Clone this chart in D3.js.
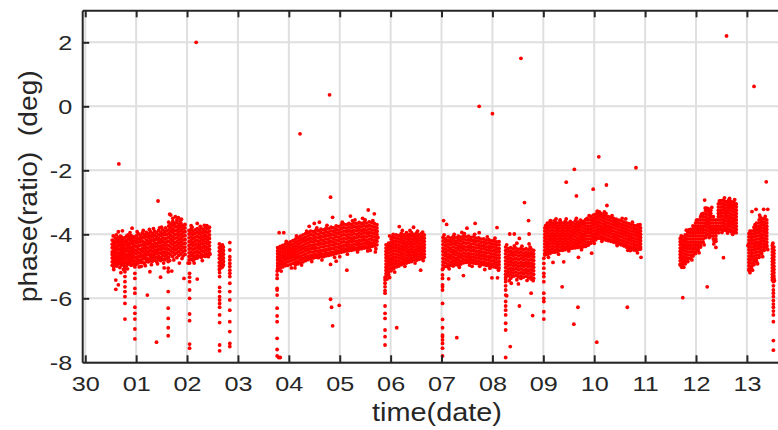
<!DOCTYPE html>
<html><head><meta charset="utf-8">
<script src="https://cdn.jsdelivr.net/npm/d3@7"></script>
<style>
body{margin:0;background:#fff}
svg{display:block}
text{font-family:"Liberation Sans",Arial,Helvetica,sans-serif;fill:#262626}
</style>
</head><body>
<svg id="c" width="778" height="430"></svg>
<script>
// ---- axis definitions (days counted from the "30" tick) ----
const xTickValues = [0,1,2,3,4,5,6,7,8,9,10,11,12,13];
const xTickLabels = ["30","01","02","03","04","05","06","07","08","09","10","11","12","13"];
const yTickValues = [-8,-6,-4,-2,0,2];
const yTickLabels = ["-8","-6","-4","-2","0","2"];
const xTitle = "time(date)";
const yTitle = "phase(ratio)  (deg)";

// ---- data: each row = [time (days), phase values at that time ...] ----
const segA = [
[0.53,-4.18,-4.31,-4.42,-4.55,-4.63,-4.74,-4.86,-4.97],
[0.56,-4.22,-4.29,-4.40,-4.51,-4.66,-4.78,-4.83,-4.92,-5.02],
[0.59,-4.12,-4.27,-4.36,-4.48,-4.59,-4.70,-4.81,-4.95],
[0.62,-4.16,-4.24,-4.38,-4.47,-4.57,-4.68,-4.77,-4.89,-4.99],
[0.65,-4.10,-4.21,-4.33,-4.45,-4.61,-4.72,-4.84,-4.93],
[0.68,-4.17,-4.26,-4.35,-4.50,-4.58,-4.69,-4.80,-4.91,-5.04],
[0.71,-4.08,-4.20,-4.32,-4.44,-4.55,-4.64,-4.76,-4.88,-4.96],
[0.74,-4.14,-4.25,-4.39,-4.49,-4.60,-4.73,-4.82,-4.94],
[0.77,-4.11,-4.23,-4.34,-4.46,-4.57,-4.67,-4.79,-4.90,-5.01],
[0.81,-4.06,-4.19,-4.30,-4.43,-4.52,-4.65,-4.75,-4.87,-4.98],
[0.84,-4.02,-4.15,-4.28,-4.37,-4.49,-4.62,-4.71,-4.85,-4.93],
[0.87,-4.09,-4.18,-4.31,-4.42,-4.56,-4.66,-4.78,-4.89],
[0.90,-4.04,-4.13,-4.26,-4.40,-4.51,-4.63,-4.74,-4.86,-4.97],
[0.93,-4.07,-4.20,-4.29,-4.41,-4.54,-4.60,-4.72,-4.83,-4.95],
[0.955,-4.10,-4.22,-4.35,-4.47,-4.58,-4.69,-4.81,-4.92],
[1.00,-4.05,-4.16,-4.27,-4.38,-4.50,-4.61,-4.73,-4.84,-4.94],
[1.04,-3.98,-4.12,-4.24,-4.36,-4.45,-4.57,-4.68,-4.79,-4.90],
[1.08,-4.03,-4.14,-4.23,-4.34,-4.48,-4.59,-4.70,-4.82,-4.88],
[1.12,-3.96,-4.09,-4.21,-4.33,-4.44,-4.53,-4.66,-4.77,-4.87],
[1.16,-4.01,-4.11,-4.25,-4.35,-4.46,-4.58,-4.67,-4.76,-4.91],
[1.20,-3.94,-4.06,-4.18,-4.30,-4.41,-4.52,-4.63,-4.74,-4.85],
[1.24,-3.99,-4.10,-4.22,-4.31,-4.43,-4.55,-4.64,-4.78,-4.86],
[1.28,-3.92,-4.05,-4.17,-4.28,-4.39,-4.50,-4.62,-4.71,-4.83],
[1.32,-3.97,-4.08,-4.19,-4.32,-4.42,-4.54,-4.65,-4.75,-4.84],
[1.36,-3.90,-4.03,-4.15,-4.26,-4.37,-4.49,-4.60,-4.70,-4.81],
[1.40,-3.95,-4.07,-4.16,-4.29,-4.40,-4.51,-4.61,-4.73,-4.85],
[1.44,-3.88,-4.01,-4.13,-4.24,-4.36,-4.47,-4.58,-4.69,-4.79],
[1.48,-3.93,-4.04,-4.17,-4.27,-4.38,-4.48,-4.59,-4.72,-4.82],
[1.52,-3.86,-3.99,-4.11,-4.22,-4.34,-4.45,-4.56,-4.66,-4.78],
[1.56,-3.91,-4.02,-4.14,-4.25,-4.35,-4.46,-4.57,-4.68,-4.80],
[1.60,-3.89,-4.00,-4.12,-4.23,-4.33,-4.44,-4.55,-4.65,-4.76],
[1.64,-3.62,-3.74,-3.86,-3.98,-4.10,-4.22,-4.35,-4.47,-4.60,-4.72],
[1.68,-3.68,-3.79,-3.91,-4.03,-4.15,-4.27,-4.39,-4.52,-4.64],
[1.72,-3.60,-3.71,-3.84,-3.95,-4.08,-4.19,-4.31,-4.44,-4.56,-4.70],
[1.76,-3.66,-3.77,-3.89,-4.01,-4.12,-4.25,-4.37,-4.49,-4.62],
[1.80,-3.63,-3.75,-3.87,-3.99,-4.11,-4.23,-4.34,-4.46,-4.58,-4.73],
[1.84,-3.70,-3.81,-3.93,-4.05,-4.17,-4.29,-4.41,-4.54,-4.66],
[1.88,-3.65,-3.76,-3.88,-4.00,-4.13,-4.24,-4.36,-4.48,-4.61],
[1.92,-3.72,-3.83,-3.94,-4.06,-4.18,-4.30,-4.42,-4.55,-4.68],
[1.96,-3.69,-3.80,-3.92,-4.04,-4.16,-4.28,-4.40,-4.51,-4.63],
[2.04,-3.88,-3.99,-4.11,-4.23,-4.35,-4.46,-4.58,-4.69,-4.80],
[2.08,-3.84,-3.96,-4.08,-4.20,-4.31,-4.43,-4.55,-4.66,-4.78],
[2.12,-3.90,-4.01,-4.13,-4.25,-4.36,-4.48,-4.60,-4.71,-4.82],
[2.16,-3.86,-3.97,-4.09,-4.21,-4.33,-4.44,-4.56,-4.68,-4.76],
[2.20,-3.82,-3.94,-4.06,-4.18,-4.30,-4.41,-4.53,-4.64,-4.74],
[2.24,-3.87,-3.98,-4.10,-4.22,-4.34,-4.45,-4.57,-4.70],
[2.28,-3.81,-3.93,-4.05,-4.16,-4.28,-4.40,-4.51,-4.63,-4.72],
[2.32,-3.85,-3.96,-4.08,-4.19,-4.31,-4.42,-4.54,-4.67],
[2.36,-3.79,-3.91,-4.03,-4.14,-4.26,-4.38,-4.49,-4.61,-4.69],
[2.40,-3.83,-3.95,-4.07,-4.18,-4.29,-4.41,-4.52,-4.62],
[2.44,-3.78,-3.90,-4.02,-4.13,-4.25,-4.36,-4.47,-4.58],
[2.635,-4.30,-4.42,-4.53,-4.65,-4.76,-4.88,-4.99,-5.10],
[2.665,-4.36,-4.47,-4.59,-4.70,-4.82,-4.93,-5.05],
[2.695,-4.33,-4.45,-4.56,-4.68,-4.79,-4.91,-5.02],
[2.715,-4.40,-4.51,-4.62,-4.74,-4.85,-4.96]
];
const segB = [
[3.78,-4.42,-4.52,-4.61,-4.71,-4.80,-4.90,-4.99,-5.08],
[3.83,-4.38,-4.47,-4.57,-4.66,-4.76,-4.85,-4.95,-5.05],
[3.88,-4.35,-4.45,-4.54,-4.64,-4.73,-4.83,-4.92,-5.02],
[3.93,-4.31,-4.41,-4.50,-4.60,-4.70,-4.79,-4.89,-4.98],
[3.98,-4.28,-4.38,-4.48,-4.57,-4.67,-4.76,-4.86,-4.97],
[4.03,-4.24,-4.34,-4.44,-4.54,-4.63,-4.73,-4.83,-4.94],
[4.08,-4.20,-4.31,-4.41,-4.50,-4.60,-4.70,-4.80,-4.91],
[4.13,-4.15,-4.25,-4.36,-4.46,-4.56,-4.66,-4.76,-4.86,-4.95],
[4.18,-4.10,-4.21,-4.31,-4.42,-4.52,-4.62,-4.72,-4.83,-4.92],
[4.23,-4.06,-4.17,-4.27,-4.38,-4.48,-4.58,-4.69,-4.79,-4.89],
[4.28,-4.02,-4.13,-4.23,-4.34,-4.44,-4.55,-4.65,-4.76,-4.86],
[4.33,-3.98,-4.09,-4.20,-4.30,-4.41,-4.51,-4.62,-4.72,-4.82],
[4.38,-3.94,-4.05,-4.16,-4.27,-4.37,-4.48,-4.58,-4.69,-4.79],
[4.43,-3.90,-4.01,-4.12,-4.23,-4.34,-4.44,-4.55,-4.66,-4.75],
[4.48,-3.92,-4.03,-4.14,-4.24,-4.35,-4.45,-4.56,-4.67,-4.74],
[4.53,-3.87,-3.98,-4.09,-4.20,-4.31,-4.42,-4.52,-4.63,-4.72],
[4.58,-3.89,-4.00,-4.11,-4.22,-4.32,-4.43,-4.54,-4.64,-4.73],
[4.63,-3.84,-3.95,-4.06,-4.17,-4.28,-4.39,-4.50,-4.60,-4.69],
[4.68,-3.86,-3.97,-4.08,-4.19,-4.30,-4.40,-4.51,-4.62,-4.70],
[4.73,-3.81,-3.92,-4.03,-4.14,-4.25,-4.36,-4.47,-4.57,-4.67],
[4.78,-3.83,-3.94,-4.05,-4.16,-4.27,-4.37,-4.48,-4.59,-4.66],
[4.83,-3.78,-3.89,-4.00,-4.11,-4.22,-4.33,-4.44,-4.55,-4.64],
[4.88,-3.80,-3.91,-4.02,-4.13,-4.24,-4.34,-4.45,-4.56,-4.62],
[4.93,-3.74,-3.85,-3.96,-4.07,-4.18,-4.29,-4.40,-4.51,-4.60],
[4.98,-3.76,-3.87,-3.98,-4.09,-4.20,-4.31,-4.41,-4.52,-4.58],
[5.03,-3.71,-3.82,-3.93,-4.04,-4.15,-4.26,-4.37,-4.47,-4.56],
[5.08,-3.68,-3.79,-3.90,-4.01,-4.12,-4.23,-4.34,-4.45,-4.54],
[5.13,-3.70,-3.81,-3.92,-4.03,-4.14,-4.25,-4.35,-4.46,-4.52],
[5.18,-3.66,-3.77,-3.88,-3.99,-4.10,-4.21,-4.31,-4.42,-4.51],
[5.23,-3.69,-3.80,-3.91,-4.02,-4.13,-4.23,-4.34,-4.44,-4.50],
[5.28,-3.65,-3.76,-3.87,-3.98,-4.09,-4.19,-4.30,-4.40,-4.48],
[5.33,-3.67,-3.78,-3.89,-4.00,-4.11,-4.22,-4.32,-4.43,-4.47],
[5.38,-3.63,-3.74,-3.85,-3.96,-4.07,-4.18,-4.28,-4.38,-4.46],
[5.43,-3.66,-3.77,-3.88,-3.99,-4.09,-4.20,-4.31,-4.41,-4.45],
[5.48,-3.62,-3.73,-3.84,-3.95,-4.06,-4.16,-4.27,-4.37,-4.43],
[5.53,-3.65,-3.76,-3.87,-3.97,-4.08,-4.19,-4.29,-4.39,-4.42],
[5.58,-3.61,-3.72,-3.83,-3.94,-4.04,-4.15,-4.25,-4.35,-4.41],
[5.63,-3.64,-3.75,-3.86,-3.96,-4.07,-4.17,-4.28,-4.38],
[5.68,-3.66,-3.77,-3.87,-3.98,-4.08,-4.19,-4.29,-4.36],
[5.73,-3.70,-3.80,-3.91,-4.01,-4.12,-4.22,-4.33]
];
const segC = [
[5.91,-4.33,-4.43,-4.53,-4.63,-4.73,-4.83,-4.93,-5.03,-5.13,-5.23,-5.32],
[5.96,-4.28,-4.38,-4.48,-4.58,-4.68,-4.78,-4.88,-4.98,-5.08,-5.18,-5.26],
[6.01,-4.15,-4.25,-4.35,-4.45,-4.55,-4.65,-4.75,-4.85,-4.95,-5.05,-5.14],
[6.06,-4.10,-4.21,-4.31,-4.41,-4.51,-4.61,-4.71,-4.81,-4.91,-5.01,-5.08],
[6.11,-4.02,-4.12,-4.22,-4.32,-4.42,-4.52,-4.62,-4.72,-4.82,-4.92,-5.02],
[6.16,-4.04,-4.14,-4.24,-4.34,-4.44,-4.54,-4.64,-4.74,-4.84,-4.94,-4.99],
[6.21,-3.97,-4.07,-4.17,-4.27,-4.37,-4.47,-4.57,-4.67,-4.77,-4.87,-4.95],
[6.26,-4.01,-4.11,-4.21,-4.31,-4.41,-4.51,-4.61,-4.71,-4.81,-4.91],
[6.31,-3.95,-4.05,-4.15,-4.25,-4.35,-4.45,-4.55,-4.65,-4.75,-4.85,-4.90],
[6.36,-4.00,-4.10,-4.20,-4.30,-4.40,-4.50,-4.60,-4.70,-4.80,-4.87],
[6.41,-3.95,-4.05,-4.15,-4.25,-4.35,-4.45,-4.55,-4.65,-4.75,-4.85],
[6.46,-4.00,-4.10,-4.20,-4.30,-4.40,-4.50,-4.60,-4.70,-4.80],
[6.51,-3.96,-4.06,-4.16,-4.26,-4.36,-4.46,-4.56,-4.66,-4.76,-4.81],
[6.56,-4.01,-4.11,-4.21,-4.31,-4.41,-4.51,-4.61,-4.71,-4.78],
[6.61,-3.97,-4.07,-4.17,-4.27,-4.37,-4.47,-4.57,-4.67,-4.76],
[6.66,-4.02,-4.12,-4.22,-4.32,-4.42,-4.52,-4.62,-4.72]
];
const segD = [
[7.03,-4.10,-4.21,-4.32,-4.43,-4.53,-4.64,-4.75,-4.86,-4.96,-5.06],
[7.08,-4.14,-4.24,-4.35,-4.46,-4.57,-4.67,-4.78,-4.89,-5.00],
[7.13,-4.08,-4.19,-4.30,-4.40,-4.51,-4.62,-4.72,-4.83,-4.94,-5.02],
[7.18,-4.12,-4.23,-4.33,-4.44,-4.55,-4.66,-4.76,-4.87,-4.97],
[7.23,-4.07,-4.17,-4.28,-4.39,-4.50,-4.60,-4.71,-4.82,-4.92,-4.99],
[7.28,-4.11,-4.22,-4.32,-4.43,-4.54,-4.64,-4.75,-4.85,-4.95],
[7.33,-4.06,-4.16,-4.27,-4.38,-4.48,-4.59,-4.70,-4.80,-4.90,-4.97],
[7.38,-4.09,-4.20,-4.31,-4.41,-4.52,-4.63,-4.73,-4.84,-4.93],
[7.43,-4.05,-4.15,-4.26,-4.37,-4.47,-4.58,-4.68,-4.79,-4.89],
[7.48,-4.08,-4.18,-4.29,-4.40,-4.50,-4.61,-4.71,-4.81,-4.88],
[7.53,-4.06,-4.17,-4.27,-4.38,-4.48,-4.59,-4.69,-4.79,-4.87],
[7.58,-4.10,-4.20,-4.31,-4.41,-4.52,-4.62,-4.72,-4.82,-4.88],
[7.63,-4.08,-4.19,-4.29,-4.40,-4.50,-4.61,-4.71,-4.81,-4.90],
[7.68,-4.12,-4.22,-4.33,-4.43,-4.54,-4.64,-4.74,-4.84,-4.91],
[7.73,-4.11,-4.21,-4.32,-4.42,-4.53,-4.63,-4.73,-4.83,-4.92],
[7.78,-4.15,-4.25,-4.36,-4.46,-4.56,-4.67,-4.77,-4.87,-4.94],
[7.83,-4.14,-4.24,-4.35,-4.45,-4.56,-4.66,-4.76,-4.86,-4.95],
[7.88,-4.18,-4.28,-4.39,-4.49,-4.59,-4.70,-4.80,-4.90,-4.97],
[7.93,-4.17,-4.27,-4.38,-4.48,-4.58,-4.69,-4.79,-4.89,-4.98],
[7.98,-4.21,-4.31,-4.41,-4.52,-4.62,-4.72,-4.83,-4.93,-5.00],
[8.03,-4.20,-4.30,-4.40,-4.51,-4.61,-4.71,-4.82,-4.92,-5.02],
[8.08,-4.24,-4.34,-4.45,-4.55,-4.65,-4.75,-4.86,-4.96,-5.04],
[8.13,-4.23,-4.33,-4.44,-4.54,-4.64,-4.74,-4.85,-4.95,-5.05]
];
const segE = [
[8.26,-4.40,-4.51,-4.61,-4.72,-4.83,-4.93,-5.04,-5.15,-5.25,-5.35],
[8.31,-4.45,-4.55,-4.66,-4.77,-4.87,-4.98,-5.09,-5.19,-5.30],
[8.36,-4.42,-4.53,-4.63,-4.74,-4.85,-4.95,-5.06,-5.17,-5.27,-5.37],
[8.41,-4.46,-4.57,-4.67,-4.78,-4.89,-4.99,-5.10,-5.21,-5.31],
[8.46,-4.43,-4.54,-4.64,-4.75,-4.86,-4.96,-5.07,-5.18,-5.29],
[8.51,-4.47,-4.58,-4.68,-4.79,-4.90,-5.00,-5.11,-5.22,-5.33],
[8.56,-4.44,-4.55,-4.65,-4.76,-4.87,-4.97,-5.08,-5.19,-5.30,-5.38],
[8.61,-4.48,-4.59,-4.69,-4.80,-4.91,-5.01,-5.12,-5.23,-5.34],
[8.66,-4.45,-4.56,-4.66,-4.77,-4.88,-4.98,-5.09,-5.20,-5.31],
[8.71,-4.49,-4.60,-4.70,-4.81,-4.92,-5.02,-5.13,-5.24,-5.36],
[8.76,-4.46,-4.57,-4.67,-4.78,-4.89,-4.99,-5.10,-5.21,-5.32,-5.40],
[8.81,-4.50,-4.61,-4.71,-4.82,-4.93,-5.03,-5.14,-5.25,-5.37]
];
const segF = [
[9.03,-3.80,-3.90,-4.00,-4.10,-4.20,-4.30,-4.40,-4.50,-4.60,-4.65],
[9.08,-3.65,-3.75,-3.85,-3.95,-4.05,-4.15,-4.25,-4.35,-4.45,-4.55,-4.63],
[9.13,-3.62,-3.70,-3.80,-3.90,-4.00,-4.10,-4.20,-4.30,-4.40,-4.50,-4.60],
[9.18,-3.66,-3.76,-3.86,-3.96,-4.06,-4.16,-4.26,-4.36,-4.46,-4.56],
[9.23,-3.60,-3.70,-3.80,-3.90,-4.00,-4.10,-4.20,-4.30,-4.40,-4.50,-4.56],
[9.28,-3.65,-3.75,-3.85,-3.95,-4.05,-4.15,-4.25,-4.35,-4.45,-4.54],
[9.33,-3.60,-3.70,-3.80,-3.90,-4.00,-4.10,-4.20,-4.30,-4.40,-4.50],
[9.38,-3.65,-3.75,-3.85,-3.95,-4.05,-4.15,-4.25,-4.35,-4.45,-4.50],
[9.43,-3.60,-3.70,-3.80,-3.90,-4.00,-4.10,-4.20,-4.30,-4.40,-4.48],
[9.48,-3.65,-3.75,-3.85,-3.95,-4.05,-4.15,-4.25,-4.35,-4.45],
[9.53,-3.60,-3.70,-3.80,-3.90,-4.00,-4.10,-4.20,-4.30,-4.40,-4.44],
[9.58,-3.64,-3.74,-3.84,-3.94,-4.04,-4.14,-4.24,-4.34,-4.43],
[9.63,-3.58,-3.68,-3.78,-3.88,-3.98,-4.08,-4.18,-4.28,-4.38,-4.42],
[9.68,-3.62,-3.72,-3.82,-3.92,-4.02,-4.12,-4.22,-4.32,-4.41],
[9.73,-3.56,-3.66,-3.76,-3.86,-3.96,-4.06,-4.16,-4.26,-4.36,-4.40],
[9.78,-3.60,-3.70,-3.80,-3.90,-4.00,-4.10,-4.20,-4.30,-4.39],
[9.83,-3.54,-3.64,-3.74,-3.84,-3.94,-4.04,-4.14,-4.24,-4.34,-4.38],
[9.88,-3.55,-3.65,-3.75,-3.85,-3.95,-4.05,-4.15,-4.25,-4.34],
[9.93,-3.45,-3.55,-3.65,-3.75,-3.85,-3.95,-4.05,-4.15,-4.25,-4.28],
[9.98,-3.40,-3.50,-3.60,-3.70,-3.80,-3.90,-4.00,-4.10,-4.20],
[10.03,-3.37,-3.47,-3.57,-3.67,-3.77,-3.87,-3.97,-4.07,-4.17],
[10.08,-3.35,-3.42,-3.52,-3.62,-3.72,-3.82,-3.92,-4.02,-4.12],
[10.13,-3.35,-3.45,-3.55,-3.65,-3.75,-3.85,-3.95,-4.05,-4.13],
[10.18,-3.38,-3.48,-3.58,-3.68,-3.78,-3.88,-3.98,-4.08,-4.15],
[10.23,-3.42,-3.52,-3.62,-3.72,-3.82,-3.92,-4.02,-4.12,-4.18],
[10.28,-3.45,-3.55,-3.65,-3.75,-3.85,-3.95,-4.05,-4.15,-4.20],
[10.33,-3.48,-3.58,-3.68,-3.78,-3.88,-3.98,-4.08,-4.18,-4.22],
[10.38,-3.50,-3.60,-3.70,-3.80,-3.90,-4.00,-4.10,-4.20,-4.24],
[10.43,-3.53,-3.63,-3.73,-3.83,-3.93,-4.03,-4.13,-4.23,-4.27],
[10.48,-3.56,-3.66,-3.76,-3.86,-3.96,-4.06,-4.16,-4.26,-4.30],
[10.53,-3.58,-3.68,-3.78,-3.88,-3.98,-4.08,-4.18,-4.28,-4.33],
[10.58,-3.61,-3.71,-3.81,-3.91,-4.01,-4.11,-4.21,-4.31,-4.36],
[10.63,-3.64,-3.74,-3.84,-3.94,-4.04,-4.14,-4.24,-4.34,-4.40],
[10.68,-3.67,-3.77,-3.87,-3.97,-4.07,-4.17,-4.27,-4.37,-4.43],
[10.73,-3.70,-3.80,-3.90,-4.00,-4.10,-4.20,-4.30,-4.40,-4.46],
[10.78,-3.72,-3.82,-3.92,-4.02,-4.12,-4.22,-4.32,-4.42,-4.49],
[10.83,-3.74,-3.84,-3.94,-4.04,-4.14,-4.24,-4.34,-4.44,-4.50],
[10.88,-3.77,-3.87,-3.97,-4.07,-4.17,-4.27,-4.37,-4.47],
[10.91,-3.80,-3.90,-4.00,-4.10,-4.20,-4.30,-4.40,-4.46]
];
const segG = [
[11.69,-4.13,-4.23,-4.33,-4.43,-4.53,-4.63,-4.73,-4.83,-4.93,-4.96],
[11.74,-4.08,-4.18,-4.28,-4.38,-4.48,-4.58,-4.68,-4.78,-4.88,-4.95],
[11.79,-4.02,-4.12,-4.22,-4.32,-4.42,-4.52,-4.62,-4.72,-4.82,-4.92],
[11.84,-3.95,-4.05,-4.15,-4.25,-4.35,-4.45,-4.55,-4.65,-4.75,-4.85],
[11.89,-3.85,-3.95,-4.05,-4.15,-4.25,-4.35,-4.45,-4.55,-4.65,-4.75],
[11.94,-3.74,-3.84,-3.94,-4.04,-4.14,-4.24,-4.34,-4.44,-4.54,-4.64,-4.68],
[11.99,-3.65,-3.75,-3.85,-3.95,-4.05,-4.15,-4.25,-4.35,-4.45,-4.55,-4.60],
[12.04,-3.55,-3.65,-3.75,-3.85,-3.95,-4.05,-4.15,-4.25,-4.35,-4.45,-4.50],
[12.09,-3.45,-3.55,-3.65,-3.75,-3.85,-3.95,-4.05,-4.15,-4.25,-4.35,-4.40],
[12.14,-3.35,-3.45,-3.55,-3.65,-3.75,-3.85,-3.95,-4.05,-4.15,-4.25],
[12.19,-3.26,-3.36,-3.46,-3.56,-3.66,-3.76,-3.86,-3.96,-4.06,-4.10],
[12.24,-3.20,-3.30,-3.40,-3.50,-3.60,-3.70,-3.80,-3.90,-4.00],
[12.29,-3.25,-3.35,-3.45,-3.55,-3.65,-3.75,-3.85,-3.95,-4.05],
[12.34,-3.45,-3.55,-3.65,-3.75,-3.85,-3.95,-4.05,-4.15],
[12.39,-3.55,-3.65,-3.75,-3.85,-3.95,-4.05,-4.15,-4.22],
[12.44,-3.05,-3.15,-3.25,-3.35,-3.45,-3.55,-3.65,-3.75,-3.85,-3.95],
[12.49,-2.95,-3.05,-3.15,-3.25,-3.35,-3.45,-3.55,-3.65,-3.75,-3.85],
[12.54,-2.93,-3.03,-3.13,-3.23,-3.33,-3.43,-3.53,-3.63,-3.73,-3.83,-3.87],
[12.59,-2.98,-3.08,-3.18,-3.28,-3.38,-3.48,-3.58,-3.68,-3.78,-3.88],
[12.64,-2.93,-3.03,-3.13,-3.23,-3.33,-3.43,-3.53,-3.63,-3.73,-3.83,-3.90],
[12.69,-2.97,-3.07,-3.17,-3.27,-3.37,-3.47,-3.57,-3.67,-3.77,-3.87,-3.92],
[12.74,-3.00,-3.10,-3.20,-3.30,-3.40,-3.50,-3.60,-3.70,-3.80,-3.90,-3.95],
[12.79,-3.05,-3.15,-3.25,-3.35,-3.45,-3.55,-3.65,-3.75,-3.85,-3.95]
];
const segH = [
[13.04,-3.98,-4.08,-4.18,-4.28,-4.38,-4.48,-4.58,-4.68,-4.78,-4.88,-4.98,-5.08,-5.12],
[13.09,-3.90,-4.00,-4.10,-4.20,-4.30,-4.40,-4.50,-4.60,-4.70,-4.80,-4.90,-5.00,-5.05],
[13.14,-3.78,-3.88,-3.98,-4.08,-4.18,-4.28,-4.38,-4.48,-4.58,-4.68,-4.78,-4.88,-4.95],
[13.19,-3.65,-3.75,-3.85,-3.95,-4.05,-4.15,-4.25,-4.35,-4.45,-4.55,-4.65,-4.75,-4.85],
[13.24,-3.55,-3.65,-3.75,-3.85,-3.95,-4.05,-4.15,-4.25,-4.35,-4.45,-4.55,-4.65,-4.72],
[13.29,-3.50,-3.60,-3.70,-3.80,-3.90,-4.00,-4.10,-4.20,-4.30,-4.40,-4.50,-4.60],
[13.34,-3.52,-3.62,-3.72,-3.82,-3.92,-4.02,-4.12,-4.22,-4.32,-4.42,-4.50],
[13.39,-3.55,-3.65,-3.75,-3.85,-3.95,-4.05,-4.15,-4.25,-4.35,-4.40],
[13.50,-4.35,-4.45,-4.55,-4.65,-4.75,-4.85,-4.95,-5.05,-5.15,-5.25,-5.35,-5.43],
[13.53,-4.40,-4.50,-4.60,-4.70,-4.80,-4.90,-5.00,-5.10,-5.20,-5.30,-5.38]
];
// sparse vertical trails at the start of each recording block
const tails = [
[0.60,-5.43,-5.72],[0.65,-5.58],
[0.78,-5.07,-5.17,-5.32,-5.48,-5.64,-5.79,-5.95,-6.16,-6.65],
[0.975,-4.95,-5.02,-5.22,-5.38,-5.69,-5.84,-6.28,-6.47,-6.65,-6.96,-7.27],
[1.63,-4.85,-5.06,-5.17,-5.79,-6.31,-6.63,-6.92,-7.17],
[2.05,-4.90,-5.22,-5.34,-5.48,-5.74,-6.00,-6.49,-6.70,-7.43,-7.56],
[2.64,-5.20,-5.32,-5.66,-5.79,-5.95,-6.05,-6.16,-6.28,-6.52,-6.76,-7.46,-7.64],
[2.84,-4.26,-4.49,-4.70,-4.80,-4.91,-5.01,-5.12,-5.22,-5.32,-5.53,-5.79,-6.05,-6.37,-6.73,-7.04,-7.41,-7.51],
[3.77,-5.15,-5.27,-5.38,-5.69,-5.74,-5.90,-6.31,-6.55,-6.73,-7.25,-7.60,-7.80],
[3.80,-7.85],[3.83,-7.85],
[5.89,-5.35,-5.43,-5.53,-5.64,-5.76,-5.84,-6.24,-6.47,-6.63,-6.99,-7.20,-7.46],
[7.02,-5.10,-5.27,-5.38,-5.58,-5.64,-5.74,-6.16,-6.66,-6.92,-7.15,-7.20,-7.30,-7.41,-7.56,-7.80],
[8.26,-5.40,-5.48,-5.61,-5.74,-5.90,-6.10,-6.24,-6.37,-6.52,-6.78,-6.99,-7.85],
[9.01,-4.75,-4.91,-5.06,-5.22,-5.32,-5.48,-5.84,-6.00,-6.10,-6.42,-6.65],
[13.52,-5.48,-5.61,-5.74,-5.84,-5.95,-6.07,-6.18,-6.28,-6.40,-6.52,-6.73,-7.32,-7.62]
];
// ragged points just outside the dense bands [time, phase]
const edges = [
[0.55,-4.05],[0.61,-4.02],[0.69,-4.06],[0.75,-5.10],[0.83,-5.08],[0.88,-3.95],[1.02,-3.92],
[1.06,-5.02],[1.14,-3.88],[1.18,-4.98],[1.26,-3.85],[1.30,-4.95],[1.34,-3.82],[1.42,-4.92],
[1.46,-3.80],[1.50,-3.78],[1.54,-4.90],[1.58,-3.80],[1.66,-4.82],[1.74,-4.80],[1.86,-3.58],
[1.90,-4.76],[2.02,-4.90],[2.10,-3.78],[2.14,-4.90],[2.26,-3.75],[2.30,-4.82],[2.34,-3.72],
[2.42,-4.70],[2.45,-4.62],
[3.85,-5.15],[3.95,-4.22],[4.05,-5.05],[4.15,-4.05],[4.25,-4.96],[4.35,-3.90],[4.45,-4.85],
[4.55,-3.80],[4.65,-4.80],[4.75,-3.72],[4.90,-4.72],[5.05,-3.62],[5.15,-4.62],[5.25,-3.58],
[5.35,-4.55],[5.50,-3.55],[5.55,-4.52],[5.65,-3.57],[5.71,-4.45],
[5.93,-5.40],[6.03,-4.08],[6.08,-5.18],[6.23,-3.88],[6.28,-5.00],[6.38,-3.88],[6.48,-4.90],
[6.53,-3.90],[6.64,-4.82],
[7.05,-4.02],[7.15,-5.08],[7.25,-4.00],[7.35,-5.03],[7.45,-3.98],[7.55,-4.96],[7.65,-4.00],
[7.75,-5.00],[7.90,-4.08],[7.95,-5.06],[8.05,-4.12],[8.12,-5.12],
[8.28,-4.33],[8.33,-5.45],[8.43,-4.36],[8.48,-5.42],[8.58,-4.37],[8.68,-5.44],[8.74,-4.40],[8.80,-5.45],
[9.05,-3.72],[9.10,-4.72],[9.25,-3.52],[9.30,-4.62],[9.45,-3.52],[9.50,-4.52],[9.65,-3.50],
[9.75,-4.48],[9.90,-3.42],[10.00,-4.28],[10.06,-3.28],[10.15,-4.22],[10.20,-3.30],[10.35,-3.42],
[10.45,-4.35],[10.55,-3.50],[10.66,-4.50],[10.75,-3.62],[10.85,-4.58],[10.90,-3.70],
[11.71,-4.05],[11.76,-5.03],[11.86,-3.86],[11.92,-4.80],[12.01,-3.56],[12.06,-4.58],[12.11,-3.37],
[12.16,-4.33],[12.21,-3.18],[12.26,-4.10],[12.31,-3.16],[12.36,-4.22],[12.46,-2.96],[12.51,-3.94],
[12.56,-2.86],[12.62,-3.96],[12.66,-2.88],[12.72,-4.00],[12.76,-2.92],
[13.06,-3.90],[13.11,-5.12],[13.16,-3.70],[13.21,-4.92],[13.26,-3.46],[13.31,-4.70],[13.36,-3.44],
[13.41,-4.48],[13.51,-4.28],[13.54,-5.45]
];
// isolated points [time, phase]
const outliers = [
[0.66,-1.80],[1.43,-2.96],[1.66,-3.37],[2.18,2.00],[0.65,-3.92],[0.73,-3.89],[0.92,-3.81],
[1.68,-3.40],[1.72,-3.50],[1.77,-3.45],[1.80,-3.55],[1.83,-3.48],[1.89,-3.53],[2.08,-3.73],
[2.20,-3.66],[2.39,-3.73],[1.22,-5.90],[1.40,-7.37],[1.48,-5.34],[1.94,-5.38],[2.20,-5.40],
[1.27,-5.17],[0.56,-5.10],[0.70,-5.20],[1.10,-5.00],[1.55,-5.05],[1.70,-5.15],[1.85,-4.90],
[4.22,-0.86],[4.80,0.36],[4.82,-2.84],[5.56,-3.24],[5.68,-3.36],[3.81,-3.95],[3.90,-3.95],
[4.82,-6.03],[4.84,-6.28],[4.86,-6.86],[4.99,-6.22],[5.14,-5.12],[4.93,-4.84],[4.82,-4.94],
[5.21,-3.43],[4.86,-3.47],[4.50,-3.66],[4.12,-5.05],[5.75,-4.10],[5.73,-3.90],[3.79,-5.12],
[4.60,-3.62],[4.40,-3.75],[5.30,-3.55],[5.45,-3.50],[5.60,-4.50],[5.70,-4.55],[5.00,-4.70],
[6.12,-6.92],[5.98,-5.35],[6.59,-5.12],[5.98,-4.05],[6.17,-3.76],[6.45,-3.78],[6.63,-3.93],[6.05,-4.00],
[7.74,0.00],[8.00,-0.23],[7.04,-3.57],[7.10,-3.69],[7.40,-3.94],[7.50,-3.81],[7.66,-3.66],
[7.74,-3.95],[8.09,-3.79],[7.14,-5.39],[7.30,-7.23],[7.43,-5.29],[7.99,-5.36],[8.10,-5.36],
[7.60,-5.00],[7.85,-5.10],
[8.56,1.50],[8.63,-3.01],[8.35,-7.51],[8.28,-5.92],[8.37,-5.53],[8.34,-3.99],[8.43,-3.99],
[8.53,-4.13],[8.48,-4.28],[8.72,-3.99],[8.72,-4.30],[8.71,-3.57],[8.53,-6.24],[8.79,-6.54],
[8.76,-5.84],[8.51,-5.55],
[9.45,-2.37],[9.61,-1.97],[9.65,-2.80],[9.98,-2.59],[10.09,-1.58],[10.24,-2.46],[10.25,-3.10],
[10.82,-1.92],[9.37,-5.64],[9.60,-6.81],[9.68,-6.28],[10.05,-7.37],[10.65,-6.28],[9.19,-4.88],
[9.40,-4.86],[9.69,-4.72],[9.95,-4.59],[10.92,-4.72],[10.71,-4.51],[9.14,-3.57],[9.21,-3.58],
[9.33,-3.55],[9.86,-3.50],[10.10,-3.30],[10.23,-3.35],[10.62,-3.52],[10.86,-3.71],
[12.60,2.20],[11.74,-5.98],[12.22,-5.64],[12.54,-4.73],[12.39,-4.41],[11.81,-3.87],[12.17,-2.93],
[12.77,-3.08],[11.72,-5.03],[12.35,-4.30],[12.18,-3.18],
[13.14,0.62],[13.38,-2.36],[13.10,-3.29],[13.18,-3.22],[13.25,-3.40],[13.33,-3.22],[13.41,-3.22],
[13.06,-5.20],[13.02,-4.35]
];

// ---- drawing ----
const svg = d3.select("#c");
const x = d3.scaleLinear().domain([-0.06, 13.886]).range([82.2, 792]);
const y = d3.scaleLinear().domain([-8, 3]).range([362.3, 10.3]);
const [x0, x1] = x.range(), [yb, yt] = y.range();
const stretch = 1.2;

svg.append("defs").append("clipPath").attr("id","clip")
  .append("rect").attr("x",x0).attr("y",yt).attr("width",x1-x0).attr("height",yb-yt);

// grid
const grid = svg.append("g").attr("stroke","#dfdfdf").attr("stroke-width",2);
grid.selectAll("line.v").data(xTickValues).join("line").attr("class","v")
  .attr("x1",d=>x(d)).attr("x2",d=>x(d)).attr("y1",yt).attr("y2",yb);
grid.selectAll("line.h").data(yTickValues).join("line").attr("class","h")
  .attr("x1",x0).attr("x2",x1).attr("y1",d=>y(d)).attr("y2",d=>y(d));

// points
const pts = [];
[].concat(segA, segB, segC, segD, segE, segF, segG, segH, tails)
  .forEach(c => c.slice(1).forEach(v => pts.push([c[0], v])));
edges.forEach(p => pts.push(p));
outliers.forEach(p => pts.push(p));
svg.append("g").attr("clip-path","url(#clip)").attr("fill","#ff0000")
  .selectAll("circle").data(pts).join("circle")
  .attr("cx",d=>x(d[0])).attr("cy",d=>y(d[1])).attr("r",1.9);

// axes
function styleAxis(g){
  g.select(".domain").attr("stroke","#262626").attr("stroke-width",2);
  g.selectAll(".tick line").attr("stroke","#262626").attr("stroke-width",2);
  g.selectAll(".tick text").attr("fill","#262626").attr("font-size",21)
    .attr("font-family",'"Liberation Sans",Arial,Helvetica,sans-serif');
}
const gx = svg.append("g").attr("transform",`translate(0,${yb})`)
  .call(d3.axisBottom(x).tickValues(xTickValues).tickSize(-7).tickSizeOuter(0).tickPadding(14)
    .tickFormat((d,i)=>xTickLabels[i]));
styleAxis(gx);
const gt = svg.append("g").attr("transform",`translate(0,${yt})`)
  .call(d3.axisTop(x).tickValues(xTickValues).tickSize(-7).tickSizeOuter(0).tickFormat(""));
styleAxis(gt);
const gy = svg.append("g").attr("transform",`translate(${x0},0)`)
  .call(d3.axisLeft(y).tickValues(yTickValues).tickSize(-7).tickSizeOuter(0).tickPadding(10)
    .tickFormat((d,i)=>yTickLabels[i]));
styleAxis(gy);
gy.selectAll(".tick").filter(d=>d===-8).select("line").remove();

svg.selectAll(".tick text").each(function(){
  const w = this.getComputedTextLength();
  d3.select(this).attr("textLength", w*stretch).attr("lengthAdjust","spacingAndGlyphs");
});

// titles
svg.append("text").attr("x",437).attr("y",421).attr("text-anchor","middle")
  .attr("font-size",25).attr("textLength",130).attr("lengthAdjust","spacingAndGlyphs").text(xTitle);
svg.append("text").attr("transform",`translate(36.5,${(yt+yb)/2}) rotate(-90)`).attr("text-anchor","middle")
  .attr("font-size",25).attr("textLength",232).attr("lengthAdjust","spacingAndGlyphs")
  .attr("xml:space","preserve").style("white-space","pre").text(yTitle);
</script>
</body></html>
